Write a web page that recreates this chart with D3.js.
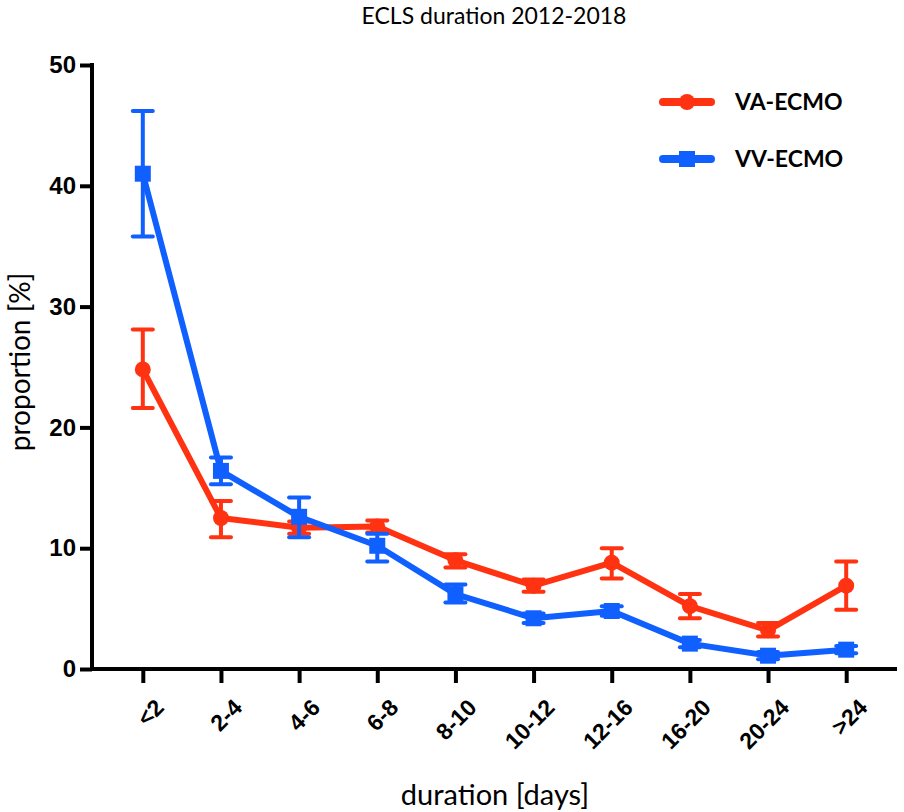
<!DOCTYPE html>
<html>
<head>
<meta charset="utf-8">
<script src="https://cdn.jsdelivr.net/npm/d3@7"></script>
<style>
  body { margin: 0; background: #fff; }
  svg { font-family: Lato, "Open Sans", sans-serif; }
</style>
</head>
<body>
<div id="chart"></div>
<script>
// categories and values
let categories = ["<2", "2-4", "4-6", "6-8", "8-10", "10-12", "12-16", "16-20", "20-24", ">24"];

let vaMean = [24.8, 12.5, 11.7, 11.8, 9.0, 6.9, 8.8, 5.2, 3.2, 6.9];
let vaLow  = [21.6, 10.9, 11.2, 11.3, 8.4, 6.4, 7.5, 4.2, 2.7, 4.9];
let vaHigh = [28.1, 13.9, 12.2, 12.3, 9.5, 7.4, 10.0, 6.2, 3.8, 8.9];

let vvMean = [41.0, 16.4, 12.6, 10.2, 6.2, 4.2, 4.8, 2.1, 1.1, 1.6];
let vvLow  = [35.8, 15.3, 10.9, 8.9, 5.5, 3.8, 4.4, 1.8, 0.8, 1.3];
let vvHigh = [46.2, 17.5, 14.2, 11.2, 7.0, 4.6, 5.2, 2.4, 1.4, 1.9];

let yTicks = [0, 10, 20, 30, 40, 50];

let series = [
    { name: "VA-ECMO", color: "#ff3311", shape: "circle", mean: vaMean, low: vaLow, high: vaHigh },
    { name: "VV-ECMO", color: "#1060ff", shape: "square", mean: vvMean, low: vvLow, high: vvHigh }
];

let margin = { top: 65, right: 7, bottom: 143, left: 92 };
let width = 904 - margin.left - margin.right;
let height = 812 - margin.top - margin.bottom;

let svg = d3.select('#chart').append('svg')
    .attr('width', 904)
    .attr('height', 812);

let g = svg.append('g')
    .attr('transform', 'translate(' + margin.left + ',' + margin.top + ')');

let xScale = d3.scalePoint()
    .domain(categories)
    .range([0, width])
    .padding(0.65);

let yScale = d3.scaleLinear()
    .domain([0, 50])
    .range([height, 0]);

// axes
let yAxis = d3.axisLeft(yScale).tickValues(yTicks).tickSize(12).tickPadding(4).tickSizeOuter(0);
let yG = g.append('g').call(yAxis);
yG.select('.domain').attr('stroke-width', 4).attr('d', 'M0,' + (height + 2) + 'V-2');
yG.selectAll('line').attr('stroke-width', 4);
yG.selectAll('text').attr('font-size', 24).attr('font-weight', 'bold').attr('fill', '#000');

let xAxis = d3.axisBottom(xScale).tickSize(14).tickSizeOuter(0);
let xG = g.append('g').attr('transform', 'translate(0,' + height + ')').call(xAxis);
xG.select('.domain').attr('stroke-width', 4).attr('d', 'M-2,0H' + width);
xG.selectAll('line').attr('stroke-width', 4);
xG.selectAll('text')
    .attr('font-size', 23)
    .attr('font-weight', 'bold')
    .attr('fill', '#000')
    .attr('text-anchor', 'end')
    .attr('dy', 0)
    .attr('transform', 'translate(10,28) rotate(-45)');

// error bars, lines, markers
series.forEach(function (s) {
    let line = d3.line()
        .x(function (d, i) { return xScale(categories[i]); })
        .y(function (d) { return yScale(d); });

    let eb = g.append('g').attr('stroke', s.color).attr('stroke-width', 4);
    categories.forEach(function (c, i) {
        let x = xScale(c);
        eb.append('line').attr('x1', x).attr('x2', x)
            .attr('y1', yScale(s.low[i])).attr('y2', yScale(s.high[i]));
        eb.append('line').attr('x1', x - 10).attr('x2', x + 10)
            .attr('y1', yScale(s.low[i])).attr('y2', yScale(s.low[i]))
            .attr('stroke-linecap', 'round');
        eb.append('line').attr('x1', x - 10).attr('x2', x + 10)
            .attr('y1', yScale(s.high[i])).attr('y2', yScale(s.high[i]))
            .attr('stroke-linecap', 'round');
    });

    g.append('path')
        .datum(s.mean)
        .attr('fill', 'none')
        .attr('stroke', s.color)
        .attr('stroke-width', 6)
        .attr('stroke-linejoin', 'round')
        .attr('d', line);

    let sym = d3.symbol().type(s.shape === 'circle' ? d3.symbolCircle : d3.symbolSquare)
        .size(s.shape === 'circle' ? 200 : 256);
    g.selectAll('.m-' + s.shape).data(s.mean).enter().append('path')
        .attr('fill', s.color)
        .attr('d', sym)
        .attr('transform', function (d, i) {
            return 'translate(' + xScale(categories[i]) + ',' + yScale(d) + ')';
        });
});

// legend
let legend = svg.append('g').attr('transform', 'translate(663,102)');
series.forEach(function (s, i) {
    let lg = legend.append('g').attr('transform', 'translate(0,' + (i * 57) + ')');
    lg.append('line').attr('x1', 0).attr('x2', 48).attr('y1', 0).attr('y2', 0)
        .attr('stroke', s.color).attr('stroke-width', 8).attr('stroke-linecap', 'round');
    lg.append('path')
        .attr('fill', s.color)
        .attr('d', d3.symbol().type(s.shape === 'circle' ? d3.symbolCircle : d3.symbolSquare)
            .size(s.shape === 'circle' ? 200 : 256))
        .attr('transform', 'translate(24,0)');
    lg.append('text').attr('x', 72).attr('y', 0).attr('dy', '0.35em')
        .attr('font-size', 23).attr('font-weight', 'bold').text(s.name);
});

// titles
svg.append('text').attr('x', 494).attr('y', 24)
    .attr('text-anchor', 'middle').attr('font-size', 23)
    .text('ECLS duration 2012-2018');

svg.append('text').attr('x', 495).attr('y', 805)
    .attr('text-anchor', 'middle').attr('font-size', 29)
    .text('duration [days]');

svg.append('text')
    .attr('transform', 'translate(30,' + (margin.top + height / 2 - 5) + ') rotate(-90)')
    .attr('text-anchor', 'middle').attr('font-size', 28)
    .text('proportion [%]');
</script>
</body>
</html>
